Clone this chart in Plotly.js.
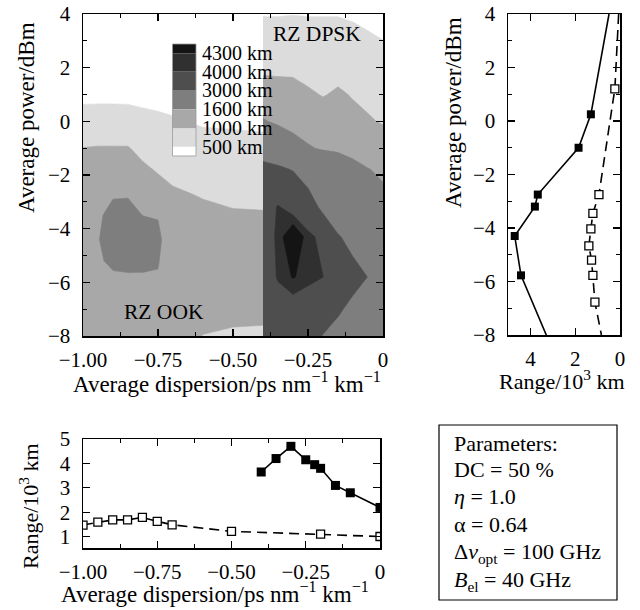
<!DOCTYPE html>
<html><head><meta charset="utf-8">
<script src="https://cdn.plot.ly/plotly-3.0.1.min.js"></script>
<style>html,body{margin:0;padding:0;background:#fff}#chart{width:640px;height:610px}</style>
</head><body><div id="chart"></div>
<script>
// ---------- contour data (range in km) ----------
const levels = [500, 1000, 1600, 3000, 4000, 4300];
const levelLabels = ['500 km', '1000 km', '1600 km', '3000 km', '4000 km', '4300 km'];

// RZ OOK grid
const ookDisp = [-1, -0.95, -0.9, -0.85, -0.8, -0.75, -0.7, -0.6, -0.5, -0.4];
const ookPower = [-8, -7, -5.8, -5.2, -4.4, -3.5, -2.75, -2, -1, 0, 1, 2, 3, 4];
const ookRange = [
  [1250, 1330, 1380, 1380, 1350, 1300, 1100, 995, 980, 980],
  [1300, 1400, 1450, 1450, 1420, 1400, 1200, 1080, 1040, 1030],
  [1400, 1500, 1560, 1570, 1560, 1580, 1340, 1200, 1200, 1150],
  [1450, 1560, 1660, 1680, 1700, 1620, 1380, 1250, 1240, 1200],
  [1480, 1590, 1690, 1700, 1790, 1660, 1410, 1250, 1250, 1200],
  [1420, 1560, 1680, 1690, 1595, 1585, 1300, 1120, 1050, 1040],
  [1350, 1450, 1580, 1584, 1400, 1250, 1080, 970, 900, 880],
  [1200, 1300, 1400, 1420, 1150, 1010, 900, 820, 780, 760],
  [1010, 1030, 1030, 1030, 850, 780, 700, 640, 640, 620],
  [620, 630, 630, 620, 590, 560, 530, 460, 440, 420],
  [430, 430, 430, 430, 410, 400, 380, 330, 300, 280],
  [300, 300, 300, 300, 290, 280, 280, 250, 230, 200],
  [200, 200, 200, 200, 200, 200, 200, 180, 160, 150],
  [150, 150, 150, 150, 150, 150, 150, 120, 100, 90]
];

// RZ DPSK grid
const dpskDisp = [-0.4, -0.35, -0.3, -0.25, -0.2, -0.15, -0.1, -0.05, 0];
const dpskPower = [-8, -7, -5.8, -4.3, -3.2, -2.5, -1.8, -1, 0, 1, 2, 3, 4];
const dpskRange = [
  [3300, 3450, 3300, 3250, 2980, 2800, 2600, 2400, 2100],
  [3400, 3700, 3720, 3605, 3300, 3080, 2850, 2700, 2300],
  [3600, 4050, 4330, 4150, 4005, 3300, 3200, 2990, 2450],
  [3650, 4100, 4700, 4125, 3850, 3050, 2800, 2600, 2200],
  [3550, 4050, 3750, 3500, 2765, 2500, 2300, 2100, 1900],
  [3450, 3600, 3600, 3010, 2500, 2250, 2000, 1900, 1640],
  [3250, 3200, 2950, 2300, 2300, 2000, 1750, 1620, 1520],
  [2600, 2200, 1850, 1660, 1530, 1500, 1450, 1350, 1250],
  [1650, 1500, 1410, 1300, 1250, 1350, 1120, 1050, 960],
  [1200, 1200, 1140, 1070, 975, 1060, 970, 880, 820],
  [920, 900, 920, 830, 830, 850, 800, 720, 660],
  [680, 680, 705, 680, 680, 680, 640, 560, 505],
  [480, 480, 490, 480, 480, 480, 440, 400, 330]
];

// ---------- right panel: range (10^3 km) vs power ----------
const dpskCutPower = [4, 0.25, -1, -2.75, -3.2, -4.3, -5.77, -8];
const dpskCutRange = [0.49, 1.3, 1.85, 3.67, 3.8, 4.7, 4.42, 3.29];
const ookCutPower = [4, 1.2, -2.75, -3.45, -4.03, -4.67, -5.2, -5.77, -6.77, -8];
const ookCutRange = [0.06, 0.23, 0.94, 1.21, 1.3, 1.39, 1.27, 1.21, 1.12, 0.83];

// ---------- bottom panel: max range vs dispersion ----------
const dpskBestDisp = [-0.4, -0.35, -0.3, -0.25, -0.22, -0.2, -0.15, -0.1, 0];
const dpskBestRange = [3.65, 4.2, 4.7, 4.15, 3.95, 3.8, 3.1, 2.8, 2.2];
const ookBestDisp = [-1, -0.95, -0.9, -0.85, -0.8, -0.75, -0.7, -0.5, -0.2, 0];
const ookBestRange = [1.48, 1.6, 1.69, 1.69, 1.79, 1.63, 1.49, 1.22, 1.11, 1.01];

const dispTicks = [-1, -0.75, -0.5, -0.25, 0];
const dispTickText = ['\u22121.00', '\u22120.75', '\u22120.50', '\u22120.25', '0'];

const paramLines = [
  'Parameters:',
  'DC = 50 %',
  '<i>\u03b7</i> = 1.0',
  '\u03b1 = 0.64',
  '\u0394<i>v</i><sub>opt</sub> = 100 GHz',
  '<i>B</i><sub>el</sub> = 40 GHz'
];

// ---------- styles / geometry ----------
const levelColors = ['#dcdcdc', '#a8a8a8', '#7e7e7e', '#4e4e4e', '#303030', '#141414'];
const W = 640, H = 610;
const px = X => X / W;
const py = Y => 1 - Y / H;
const FONT = '"Liberation Serif", "DejaVu Serif", serif';
const fnt = s => ({family: FONT, size: s, color: 'black'});

const traces = [];
levels.forEach((L, i) => {
  [[ookDisp, ookPower, ookRange], [dpskDisp, dpskPower, dpskRange]].forEach(([x, y, z]) => {
    traces.push({
      type: 'contour', x: x, y: y, z: z, xaxis: 'x', yaxis: 'y',
      contours: {type: 'constraint', operation: '<', value: L},
      fillcolor: levelColors[i],
      line: {width: 0.6, color: levelColors[i], smoothing: 0},
      showscale: false, hoverinfo: 'skip', showlegend: false
    });
  });
});

const lineW = 1.6;
// right panel
traces.push({type: 'scatter', mode: 'lines', x: ookCutRange, y: ookCutPower, xaxis: 'x2', yaxis: 'y2',
  line: {color: 'black', width: lineW, dash: '10px,6px'}, showlegend: false});
traces.push({type: 'scatter', mode: 'markers', x: ookCutRange.slice(1, -1), y: ookCutPower.slice(1, -1), xaxis: 'x2', yaxis: 'y2',
  marker: {symbol: 'square', size: 8, color: 'white', line: {color: 'black', width: 1.3}}, showlegend: false});
traces.push({type: 'scatter', mode: 'lines', x: dpskCutRange, y: dpskCutPower, xaxis: 'x2', yaxis: 'y2',
  line: {color: 'black', width: lineW}, showlegend: false});
traces.push({type: 'scatter', mode: 'markers', x: dpskCutRange.slice(1, -1), y: dpskCutPower.slice(1, -1), xaxis: 'x2', yaxis: 'y2',
  marker: {symbol: 'square', size: 8, color: 'black'}, showlegend: false});
// bottom panel
traces.push({type: 'scatter', mode: 'lines+markers', x: ookBestDisp, y: ookBestRange, xaxis: 'x3', yaxis: 'y3',
  line: {color: 'black', width: lineW, dash: '10px,6px'},
  marker: {symbol: 'square', size: 8, color: 'white', line: {color: 'black', width: 1.3}}, showlegend: false});
traces.push({type: 'scatter', mode: 'lines+markers', x: dpskBestDisp, y: dpskBestRange, xaxis: 'x3', yaxis: 'y3',
  line: {color: 'black', width: lineW},
  marker: {symbol: 'square', size: 9, color: 'black'}, showlegend: false});

const axBase = {
  showline: true, linecolor: 'black', linewidth: 1.5, mirror: 'ticks',
  ticks: 'inside', ticklen: 7, tickwidth: 1.2, tickcolor: 'black',
  showgrid: false, zeroline: false, fixedrange: true,
  tickfont: fnt(21), ticklabelstandoff: 4
};
const yExtra = {ticklabelstandoff: 7};
const minorT = (tick0, dtick) => ({tick0: tick0, dtick: dtick, ticks: 'inside', ticklen: 4, tickwidth: 1, tickcolor: 'black', showgrid: false});

const layout = {
  width: W, height: H, margin: {l: 0, r: 0, t: 0, b: 0},
  paper_bgcolor: 'white', plot_bgcolor: 'white', showlegend: false, hovermode: false,
  font: fnt(20),
  xaxis: Object.assign({}, axBase, {domain: [px(83), px(383)], range: [-1, 0], anchor: 'y',
    tickmode: 'array', tickvals: dispTicks, ticktext: dispTickText, minor: minorT(-1, 0.125)}),
  yaxis: Object.assign({}, axBase, yExtra, {domain: [py(336), py(14)], range: [-8, 4], anchor: 'x',
    tick0: -8, dtick: 2, minor: minorT(-8, 1)}),
  xaxis2: Object.assign({}, axBase, {domain: [px(508), px(620)], range: [5, 0], anchor: 'y2',
    tickmode: 'array', tickvals: [4, 2, 0], ticktext: ['4', '2', '0']}),
  yaxis2: Object.assign({}, axBase, yExtra, {domain: [py(335), py(14)], range: [-8, 4], anchor: 'x2',
    tick0: -8, dtick: 2, minor: minorT(-8, 1)}),
  xaxis3: Object.assign({}, axBase, {domain: [px(83), px(380)], range: [-1, 0], anchor: 'y3',
    tickmode: 'array', tickvals: dispTicks, ticktext: dispTickText, minor: minorT(-1, 0.125)}),
  yaxis3: Object.assign({}, axBase, yExtra, {domain: [py(548), py(439)], range: [0.54, 5], anchor: 'x3',
    tickmode: 'array', tickvals: [1, 2, 3, 4, 5], ticktext: ['1', '2', '3', '4', '5']}),
  shapes: [], annotations: []
};

const ann = (text, X, Y, size, opts) => layout.annotations.push(Object.assign({
  text: text, x: px(X), y: py(Y), xref: 'paper', yref: 'paper', showarrow: false,
  xanchor: 'center', yanchor: 'middle', font: fnt(size)
}, opts || {}));

// axis titles
ann('Average power/dBm', 26, 118, 23, {textangle: -90});
ann('Average dispersion/ps nm<sup>\u22121</sup> km<sup>\u22121</sup>', 227, 382, 23);
ann('Average power/dBm', 453, 113, 23, {textangle: -90});
ann('Range/10<sup>3</sup> km', 562, 380, 22);
ann('Range/10<sup>3</sup> km', 29, 506, 22, {textangle: -90});
ann('Average dispersion/ps nm<sup>\u22121</sup> km<sup>\u22121</sup>', 215, 592, 23);
// panel labels
ann('RZ DPSK', 317, 34, 21.5);
ann('RZ OOK', 164, 312, 21.5);

// legend bar (top to bottom: above 4300 ... below 500)
const legX0 = 172.5, legX1 = 196;
const legY = [44, 53.3, 71.7, 90, 109.3, 128.3, 146.7, 156];
const legFill = ['#141414', '#303030', '#4e4e4e', '#7e7e7e', '#a8a8a8', '#dcdcdc', '#ffffff'];
legFill.forEach((c, i) => layout.shapes.push({type: 'rect', xref: 'paper', yref: 'paper',
  x0: px(legX0), x1: px(legX1), y0: py(legY[i + 1]), y1: py(legY[i]), fillcolor: c, line: {width: 0}}));
layout.shapes.push({type: 'rect', xref: 'paper', yref: 'paper', x0: px(legX0), x1: px(legX1),
  y0: py(legY[7]), y1: py(legY[0]), line: {color: '#9a9a9a', width: 0.8}});
levelLabels.slice().reverse().forEach((t, i) => ann(t, 200, legY[i + 1], 20, {xanchor: 'left'}));

// parameters box
layout.shapes.push({type: 'rect', xref: 'paper', yref: 'paper', x0: px(439), x1: px(617),
  y0: py(600), y1: py(425), line: {color: 'black', width: 1.2}});
const paramY = [443, 469, 496, 524, 553, 581];
paramLines.forEach((t, i) => ann(t, 452, paramY[i], 22, {xanchor: 'left'}));

Plotly.newPlot('chart', traces, layout, {staticPlot: true, displayModeBar: false});
</script></body></html>
